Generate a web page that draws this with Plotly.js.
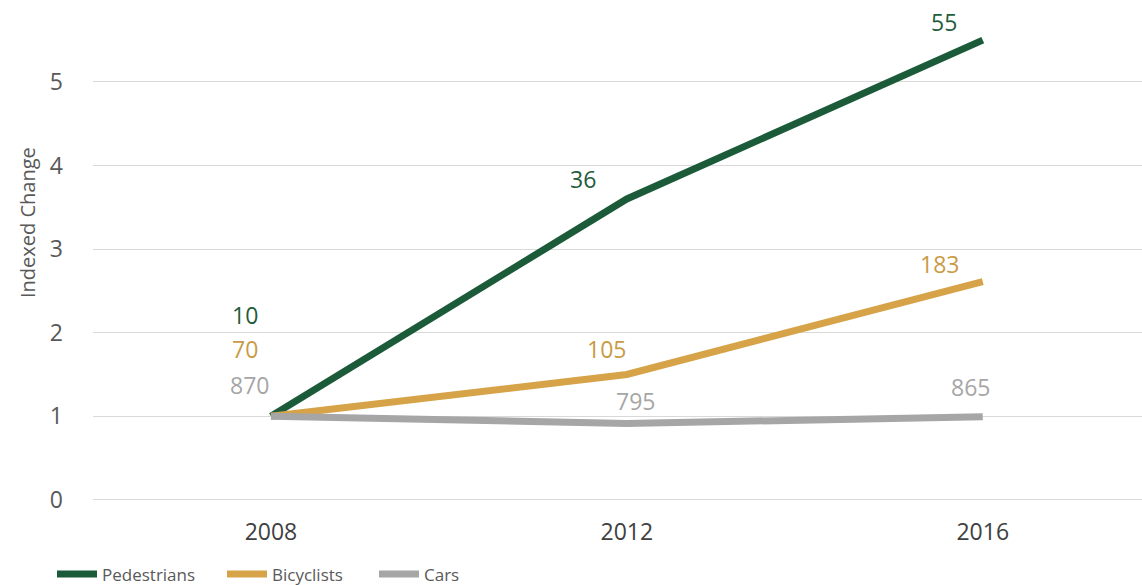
<!DOCTYPE html>
<html><head><meta charset="utf-8">
<script src="https://cdn.plot.ly/plotly-3.0.1.min.js"></script>
<style>html,body{margin:0;padding:0;background:#fff}#c{width:1142px;height:585px}</style>
</head><body><div id="c"></div>
<script>
const years = [2008, 2012, 2016];
const seriesNames = ['Pedestrians', 'Bicyclists', 'Cars'];
const pedestriansIndex = [1, 3.6, 5.5];
const bicyclistsIndex = [1, 1.5, 2.61];
const carsIndex = [1, 0.914, 0.994];
const pedestriansCount = ['10', '36', '55'];
const bicyclistsCount = ['70', '105', '183'];
const carsCount = ['870', '795', '865'];
const yTicks = [0, 1, 2, 3, 4, 5];
const yTitle = 'Indexed Change';

const lineColors = ['#1c5b39', '#d6a348', '#a6a6a6'];
const labelColors = ['#1f5c3c', '#c99b45', '#a6a6a6'];
const indexData = [pedestriansIndex, bicyclistsIndex, carsIndex];
const countData = [pedestriansCount, bicyclistsCount, carsCount];
const shifts = [
  [[-26, 101], [-44, 20], [-39, 18]],
  [[-26, 67], [-20, 25], [-43, 18]],
  [[-21, 31], [9, 22], [-12, 30]]
];
const legendIds = ['legend', 'legend2', 'legend3'];
const legendX = [52, 222, 374];

const font = 'Open Sans, DejaVu Sans, sans-serif';
const traces = seriesNames.map((n, i) => ({
  type: 'scatter', mode: 'lines', name: n, x: years, y: indexData[i],
  legend: legendIds[i],
  line: {color: lineColors[i], width: 7}, hoverinfo: 'skip'
}));

const annotations = [];
countData.forEach((arr, i) => arr.forEach((t, j) => {
  annotations.push({x: years[j], y: indexData[i][j], xref: 'x', yref: 'y', text: t,
    showarrow: false, xshift: shifts[i][j][0], yshift: shifts[i][j][1],
    font: {family: font, size: 23, color: labelColors[i]}});
}));
annotations.push({xref: 'paper', yref: 'paper', x: 0, y: 0.5575, xshift: -66,
  text: yTitle, textangle: -90, showarrow: false, xanchor: 'center', yanchor: 'middle',
  font: {family: font, size: 20, color: '#595959'}});

const layout = {
  width: 1142, height: 585,
  margin: {l: 93, r: 0, t: 0, b: 81},
  paper_bgcolor: '#fff', plot_bgcolor: '#fff',
  showlegend: true,
  xaxis: {range: [2006, 2017.79], tickvals: years, ticktext: years.map(String),
    showgrid: false, zeroline: false, showline: false, ticks: '',
    tickfont: {family: font, size: 23, color: '#404040'}, ticklabelstandoff: 12},
  yaxis: {range: [-0.05, 5.98], tickvals: yTicks, showgrid: true, gridcolor: '#d9d9d9',
    gridwidth: 1, zeroline: false, showline: false, ticks: '',
    tickfont: {family: font, size: 23, color: '#595959'}, ticklabelstandoff: 29},
  annotations: annotations
};
legendIds.forEach((id, i) => {
  layout[id] = {orientation: 'h', xref: 'container', yref: 'container',
    x: legendX[i] / 1142, y: 0.018, xanchor: 'left', yanchor: 'middle',
    font: {family: font, size: 17, color: '#595959'}, itemwidth: 40, bgcolor: 'rgba(0,0,0,0)'};
});
Plotly.newPlot('c', traces, layout, {displayModeBar: false, staticPlot: true});
</script></body></html>
